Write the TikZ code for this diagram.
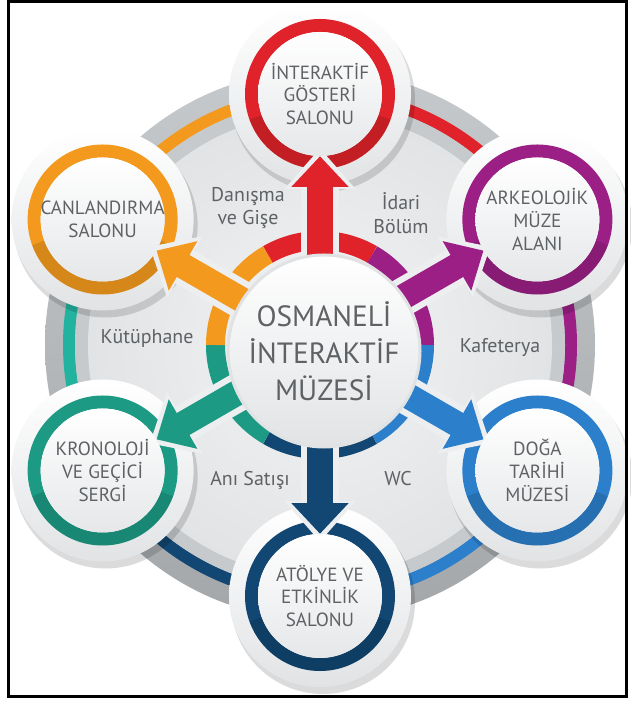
\documentclass[tikz,border=0pt]{standalone}
\usepackage{fontspec}
\setmainfont{PT Sans}
\usetikzlibrary{arrows.meta,calc}
\definecolor{txt}{HTML}{5F6265}
\definecolor{cred}{HTML}{E0232B}
\definecolor{corg}{HTML}{F39A1E}
\definecolor{cpur}{HTML}{9B1F85}
\definecolor{cblu}{HTML}{2C80CB}
\definecolor{cnav}{HTML}{114772}
\definecolor{ctea}{HTML}{1C9A84}
\definecolor{ctea2}{HTML}{22B3A0}
\definecolor{goutA}{HTML}{C6C9CB}
\definecolor{goutB}{HTML}{A3A7AA}
\definecolor{gband}{HTML}{C6CACD}
\definecolor{gin}{HTML}{E1E3E5}
\definecolor{rim}{HTML}{ECEEEF}
\pgfdeclarelayer{bg}\pgfdeclarelayer{mid}\pgfsetlayers{bg,mid,main}
\tikzset{
 sat/.style={circle, minimum size=3.72cm, inner sep=-0.45cm, align=center, text=txt,
   font=\fontsize{16.3}{19.5}\selectfont, top color=white, bottom color=gin!85!white},
 hubnode/.style={circle, minimum size=5.76cm, inner sep=0pt, align=center, text=txt,
   font=\fontsize{25}{31.5}\selectfont, draw=gband!55!white, line width=0.09cm,
   top color=white, bottom color=gin},
 lab/.style={align=center, text=txt, font=\fontsize{17}{20}\selectfont},
 arrowback/.style={draw=rim, line width=1.14cm, -{Triangle[width=2.05cm,length=1.22cm]}, shorten >=-0.24cm},
 arrowfront/.style={line width=0.76cm, -{Triangle[width=1.66cm,length=0.92cm]}},
}
\begin{document}
\begin{tikzpicture}[x=0.03cm,y=0.03cm]
\useasboundingbox (0,0) rectangle (630,704);
\coordinate (H) at (320,359);
\coordinate (C) at (324,353);
\foreach \n/\a in {T/90,UR/30,LR/-30,B/-90,LL/-150,UL/150} {\path (H) ++(\a:251) coordinate (p\n);}
% nodes
\node[hubnode] (hub) at (C) {OSMANELİ\\İNTERAKTİF\\MÜZESİ};
\node[sat] (sT) at (pT) {İNTERAKTİF\\GÖSTERİ\\SALONU};
\node[sat] (sUR) at (pUR) {ARKEOLOJİK\\MÜZE\\ALANI};
\node[sat] (sLR) at (pLR) {DOĞA\\TARİHİ\\MÜZESİ};
\node[sat] (sB) at (pB) {ATÖLYE VE\\ETKİNLİK\\SALONU};
\node[sat] (sLL) at (pLL) {KRONOLOJİ\\VE GEÇİCİ\\SERGİ};
\node[sat] (sUL) at (pUL) {CANLANDIRMA\\SALONU};
\node[lab] (l1) at (248,496) {Danışma\\ve Gişe};
\node[lab] (l2) at (401,491) {İdari\\Bölüm};
\node[lab] (l3) at (147,366) {Kütüphane};
\node[lab] (l4) at (500,356) {Kafeterya};
\node[lab] (l5) at (250,224) {Anı Satışı};
\node[lab] (l6) at (398,225) {WC};
% background
\begin{pgfonlayer}{bg}
\fill[white] (0,0) rectangle (630,704);
\shade[top color=goutA, bottom color=goutB] (H) circle (275);
\foreach \a/\c in {90/corg,30/cred,-30/cpur,-90/cblu,-150/cnav,150/ctea2}
  \draw[line width=0.36cm,\c] (H) ++(\a:251) arc[start angle=\a, delta angle=60, radius=251];
\fill[gband] (H) circle (245);
\shade[inner color=gin!40!white, outer color=gin] (H) circle (232);
\foreach \a/\c in {60/cred,0/cpur,-60/cblu,-120/cnav,180/ctea,120/corg}
  \draw[line width=0.57cm,\c] (H) ++(\a:104.5) arc[start angle=\a, delta angle=60, radius=104.5];
\foreach \n/\c in {T/cred,UR/cpur,LR/cblu,B/cnav,LL/ctea,UL/corg} {
  \fill[black,opacity=0.14] ($(s\n.center)+(3,-6)$) circle (92);
  \shade[top color=white, bottom color=gin] (s\n.center) circle (91);
  \draw[line width=0.39cm,\c] (s\n.center) circle (68.5);
  \draw[line width=0.39cm,black,opacity=0.12] (s\n.center) ++(200:68.5) arc[start angle=200, end angle=340, radius=68.5];
}
\end{pgfonlayer}
% arrows
\begin{pgfonlayer}{mid}
\foreach \n/\c in {T/cred,UR/cpur,LR/cblu,B/cnav,LL/ctea,UL/corg} {
  \draw[arrowback] (H) -- (s\n);
  \draw[arrowfront,\c] (H) -- (s\n);
}
\end{pgfonlayer}
% frame
\fill[white] (0,0) rectangle (8,704);
\fill[white] (627,0) rectangle (630,704);
\draw[line width=0.09cm] (8.5,7.5) rectangle (626.5,702.5);
\end{tikzpicture}
\end{document}
